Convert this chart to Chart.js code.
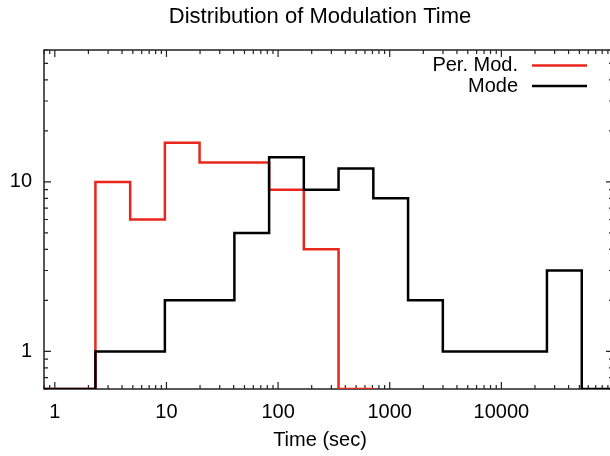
<!DOCTYPE html>
<html>
<head>
<meta charset="utf-8">
<script src="https://cdn.jsdelivr.net/npm/chart.js@4/dist/chart.umd.min.js"></script>
<style>
  html, body { margin: 0; padding: 0; background: #fff; overflow: hidden; }
  #wrap { width: 613px; height: 456px; }
</style>
</head>
<body>
<div id="wrap"><canvas id="histChart" width="613" height="456"></canvas></div>
<script>
// bin edges in seconds (one more edge than bins)
const binEdges = [0.55, 1.13, 2.31, 4.73, 9.68, 19.8, 40.6, 83.1, 170, 348, 713, 1460, 2990, 6120, 12500, 25600, 52500, 107000];
const perModCounts = [0, 0, 10, 6, 17, 13, 13, 9, 4, 0];
const modeCounts = [0, 0, 1, 1, 2, 2, 5, 14, 9, 12, 8, 2, 1, 1, 1, 3, 0];
const xTickLabels = [1, 10, 100, 1000, 10000];
const yTickLabels = [1, 10];
const xRange = [0.8, 100000];
const yRange = [0.6, 60];
const seriesNames = ['Per. Mod.', 'Mode'];
const seriesColors = ['#e8261c', '#000000'];
const chartTitle = 'Distribution of Modulation Time';
const xTitle = 'Time (sec)';

const FONT = '"Liberation Sans", Arial, sans-serif';
Chart.defaults.font.family = FONT;
Chart.defaults.font.size = 20;
Chart.defaults.color = '#000';

// empty bins sit on the bottom of the log axis
function stepPoints(counts) {
    const pts = counts.map((c, i) => ({ x: binEdges[i], y: c > 0 ? c : yRange[0] }));
    pts.push({ x: binEdges[counts.length], y: pts[pts.length - 1].y });
    return pts;
}

// gnuplot look: box border, inward ticks on all sides, title, key
const gnuplotFrame = {
    id: 'gnuplotFrame',
    beforeDatasetsDraw(chart) {
        const { ctx, chartArea: a, scales } = chart;
        const xs = scales.x, ys = scales.y;
        ctx.save();
        ctx.strokeStyle = '#222';
        ctx.lineWidth = 1.5;
        ctx.strokeRect(a.left, a.top, a.right - a.left, a.bottom - a.top);

        ctx.lineWidth = 1.2;
        ctx.beginPath();
        for (let d = -1; d <= 5; d++) {
            for (let k = 1; k <= 9; k++) {
                const v = k * Math.pow(10, d);
                if (v < xRange[0] || v > xRange[1]) continue;
                const len = k === 1 ? 7 : 4;
                const px = xs.getPixelForValue(v);
                ctx.moveTo(px, a.bottom); ctx.lineTo(px, a.bottom - len);
                ctx.moveTo(px, a.top); ctx.lineTo(px, a.top + len);
            }
        }
        for (let d = -1; d <= 1; d++) {
            for (let k = 1; k <= 9; k++) {
                const v = k * Math.pow(10, d);
                if (v < yRange[0] || v > yRange[1]) continue;
                const len = k === 1 ? 7 : 4;
                const py = ys.getPixelForValue(v);
                ctx.moveTo(a.left, py); ctx.lineTo(a.left + len, py);
                ctx.moveTo(a.right, py); ctx.lineTo(a.right - len, py);
            }
        }
        ctx.stroke();
        ctx.restore();
    },
    afterDraw(chart) {
        const { ctx } = chart;
        ctx.save();
        ctx.fillStyle = '#000';
        ctx.textBaseline = 'middle';
        ctx.textAlign = 'center';
        ctx.font = '22px ' + FONT;
        ctx.fillText(chartTitle, 320, 17);
        ctx.font = '20px ' + FONT;
        ctx.fillText(xTitle, 320, 440);

        // key
        ctx.textAlign = 'right';
        seriesNames.forEach((name, i) => {
            const y = 65.5 + i * 20.5;
            ctx.fillText(name, 518, y);
            ctx.strokeStyle = seriesColors[i];
            ctx.lineWidth = 2.5;
            ctx.beginPath();
            ctx.moveTo(532, y); ctx.lineTo(587, y);
            ctx.stroke();
        });
        ctx.restore();
    }
};

const ctx = document.getElementById('histChart').getContext('2d');
const histChart = new Chart(ctx, {
    type: 'line',
    data: {
        datasets: [
            {
                label: seriesNames[0],
                data: stepPoints(perModCounts),
                borderColor: seriesColors[0],
                borderWidth: 2.5,
                stepped: 'before',
                pointRadius: 0,
                fill: false,
                order: 1,
            },
            {
                label: seriesNames[1],
                data: stepPoints(modeCounts),
                borderColor: seriesColors[1],
                borderWidth: 2.5,
                stepped: 'before',
                pointRadius: 0,
                fill: false,
                order: 0,
            },
        ],
    },
    options: {
        responsive: false,
        animation: false,
        layout: { padding: { top: 50 } },
        plugins: {
            legend: { display: false },
            title: { display: false },
            tooltip: { enabled: false },
        },
        scales: {
            x: {
                type: 'logarithmic',
                min: xRange[0],
                max: xRange[1],
                bounds: 'data',
                grid: { display: false, drawTicks: false },
                border: { display: false },
                afterBuildTicks: (s) => { s.ticks = xTickLabels.map((v) => ({ value: v })); },
                afterFit: (s) => { s.height = 67; },
                ticks: {
                    autoSkip: false,
                    maxRotation: 0,
                    padding: 11,
                    callback: (v) => String(v),
                },
            },
            y: {
                type: 'logarithmic',
                min: yRange[0],
                max: yRange[1],
                bounds: 'data',
                grid: { display: false, drawTicks: false },
                border: { display: false },
                afterBuildTicks: (s) => { s.ticks = yTickLabels.map((v) => ({ value: v })); },
                afterFit: (s) => { s.width = 44; },
                ticks: {
                    autoSkip: false,
                    padding: 12,
                    callback: (v) => String(v),
                },
            },
        },
    },
    plugins: [gnuplotFrame],
});
</script>
</body>
</html>
